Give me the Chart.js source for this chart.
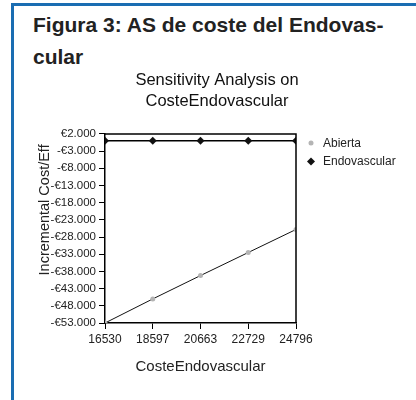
<!DOCTYPE html>
<html>
<head>
<meta charset="utf-8">
<script src="https://cdn.jsdelivr.net/npm/chart.js@4/dist/chart.umd.min.js"></script>
<style>
  html, body { margin: 0; padding: 0; background: #fff; }
  body { width: 416px; height: 400px; position: relative; overflow: hidden; }
  #frame { position: absolute; left: 11px; top: 3px; right: 0; bottom: -10px;
           border-top: 3px solid #1a6db2; border-left: 3px solid #1a6db2; }
  #heading { position: absolute; left: 33px; top: 9px; width: 375px;
             font: bold 21px "Liberation Sans", Arial, sans-serif; line-height: 31.5px; color: #222; }
  #wrap { position: absolute; left: 0; top: 0; width: 416px; height: 400px; }
</style>
</head>
<body>
<div id="frame"></div>
<div id="heading">Figura 3: AS de coste del Endovas-<br>cular</div>
<div id="wrap"><canvas id="c" width="416" height="400"></canvas></div>
<script>
const costeEndovascular = [16530, 18597, 20663, 22729, 24796];
const abierta = [-53000, -46000, -39200, -32500, -25800];
const endovascular = [0, 0, 0, 0, 0];
const yTickValues = [2000, -3000, -8000, -13000, -18000, -23000, -28000, -33000, -38000, -43000, -48000, -53000];
const seriesNames = ['Abierta', 'Endovascular'];
const titleLines = ['Sensitivity Analysis on', 'CosteEndovascular'];
const xTitle = 'CosteEndovascular';
const yTitle = 'Incremental Cost/Eff';

const FONT = '"Liberation Sans", Arial, sans-serif';

function euro(v) {
  const a = Math.abs(v);
  const s = String(a).replace(/\B(?=(\d{3})+(?!\d))/g, '.');
  return (v < 0 ? '-€' : '€') + s;
}

const frameAndLegend = {
  id: 'frameAndLegend',
  afterDraw(chart) {
    const ctx = chart.ctx;
    const a = chart.chartArea;
    ctx.save();
    ctx.strokeStyle = '#000';
    ctx.lineWidth = 1.5;
    ctx.beginPath();
    ctx.moveTo(a.left, a.top);
    ctx.lineTo(a.right, a.top);
    ctx.lineTo(a.right, a.bottom);
    ctx.stroke();
    // y axis title
    ctx.fillStyle = '#222';
    ctx.font = '14.5px ' + FONT;
    ctx.textAlign = 'center';
    ctx.textBaseline = 'middle';
    ctx.translate(45, a.top + 76);
    ctx.rotate(-Math.PI / 2);
    ctx.fillText(yTitle, 0, 0);
    ctx.setTransform(1, 0, 0, 1, 0, 0);
    // legend
    const lx = a.right + 15, ly0 = a.top + 9, gap = 18.5;
    chart.data.datasets.forEach((ds, i) => {
      const y = ly0 + i * gap;
      ctx.fillStyle = ds.pointBackgroundColor;
      ctx.beginPath();
      if (ds.pointStyle === 'rectRot') {
        const r = ds.pointRadius;
        ctx.moveTo(lx, y - r); ctx.lineTo(lx + r, y); ctx.lineTo(lx, y + r); ctx.lineTo(lx - r, y);
        ctx.closePath();
      } else {
        ctx.arc(lx, y, ds.pointRadius, 0, Math.PI * 2);
      }
      ctx.fill();
      ctx.fillStyle = '#222';
      ctx.font = '12px ' + FONT;
      ctx.textBaseline = 'middle';
      ctx.textAlign = 'left';
      ctx.fillText(ds.label, lx + 12, y + 0.5);
    });
    ctx.restore();
  }
};

new Chart(document.getElementById('c'), {
  type: 'line',
  data: {
    datasets: [
      {
        label: seriesNames[0],
        data: costeEndovascular.map((x, i) => ({ x, y: abierta[i] })),
        borderColor: '#111',
        borderWidth: 1,
        pointStyle: 'circle',
        pointRadius: 2.5,
        pointBackgroundColor: '#b4b4b4',
        pointBorderColor: '#b4b4b4',
        pointBorderWidth: 0,
        tension: 0
      },
      {
        label: seriesNames[1],
        data: costeEndovascular.map((x, i) => ({ x, y: endovascular[i] })),
        borderColor: '#000',
        borderWidth: 1.5,
        pointStyle: 'rectRot',
        pointRadius: 4,
        pointBackgroundColor: '#111',
        pointBorderColor: '#111',
        pointBorderWidth: 0,
        tension: 0
      }
    ]
  },
  options: {
    responsive: false,
    animation: false,
    devicePixelRatio: 1,
    layout: { padding: { left: 18, right: 0, top: 0, bottom: 0 } },
    plugins: {
      legend: { display: false },
      tooltip: { enabled: false },
      title: {
        display: true,
        text: titleLines,
        color: '#111',
        font: { family: FONT, size: 16.5, weight: 'normal', lineHeight: 1.33 },
        padding: { top: 69, bottom: 21 }
      }
    },
    scales: {
      x: {
        type: 'linear',
        min: costeEndovascular[0],
        max: costeEndovascular[costeEndovascular.length - 1],
        afterBuildTicks: (s) => { s.ticks = costeEndovascular.map(v => ({ value: v })); },
        afterFit: (s) => { s.height = 77; },
        ticks: {
          color: '#222', font: { family: FONT, size: 12 }, padding: 3,
          maxRotation: 0, autoSkip: false,
          callback: (v) => String(v)
        },
        grid: { display: true, drawOnChartArea: false, drawTicks: true, tickLength: 6, color: '#000', lineWidth: 1 },
        border: { display: true, color: '#000', width: 1.5 },
        title: { display: true, text: xTitle, color: '#222', font: { family: FONT, size: 15 }, padding: { top: 0, bottom: 24 } }
      },
      y: {
        type: 'linear',
        min: yTickValues[yTickValues.length - 1],
        max: yTickValues[0],
        afterBuildTicks: (s) => { s.ticks = yTickValues.slice().reverse().map(v => ({ value: v })); },
        afterFit: (s) => { s.width = 87; },
        ticks: {
          color: '#222', font: { family: FONT, size: 11.5 }, padding: 3, autoSkip: false,
          callback: (v) => euro(v)
        },
        grid: { display: true, drawOnChartArea: false, drawTicks: true, tickLength: 6, color: '#000', lineWidth: 1 },
        border: { display: true, color: '#000', width: 1.5 },
        title: { display: false }
      },
      legendSpace: {
        type: 'linear',
        position: 'right',
        display: true,
        afterFit: (s) => { s.width = 120; },
        ticks: { display: false },
        grid: { display: false, drawTicks: false },
        border: { display: false }
      }
    }
  },
  plugins: [frameAndLegend]
});
</script>
</body>
</html>
